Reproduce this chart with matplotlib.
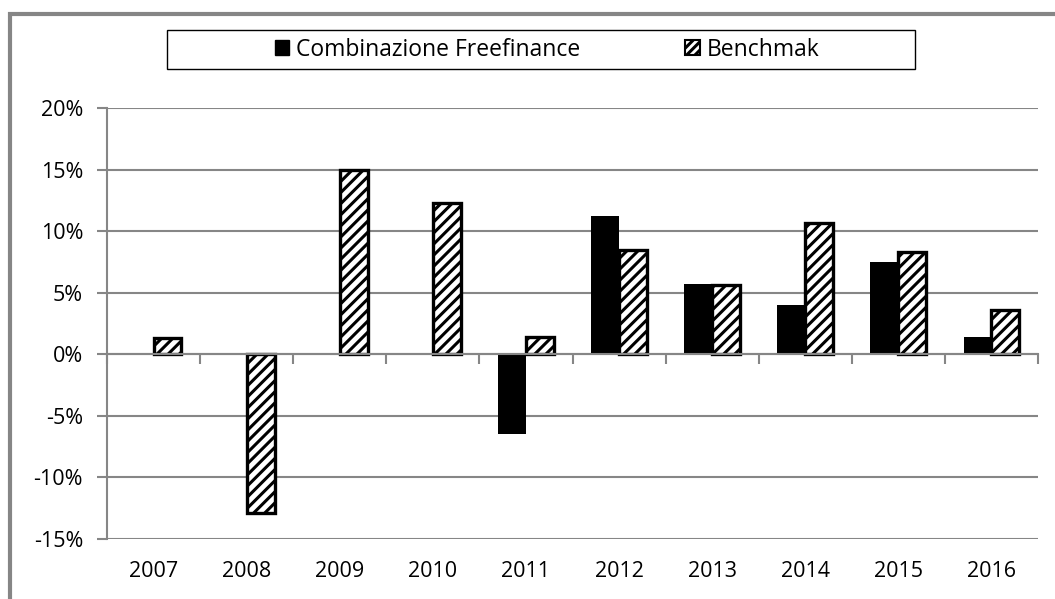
import matplotlib
matplotlib.use("Agg")
import matplotlib.pyplot as plt
import numpy as np
from matplotlib.patches import Rectangle, Patch
from matplotlib.ticker import FuncFormatter

years = ["2007", "2008", "2009", "2010", "2011", "2012", "2013", "2014", "2015", "2016"]
freefinance = [0.0, 0.0, 0.0, 0.0, -6.5, 11.2, 5.7, 4.0, 7.5, 1.4]
benchmark = [1.3, -12.9, 15.0, 12.3, 1.4, 8.5, 5.6, 10.7, 8.3, 3.6]
series_names = ["Combinazione Freefinance", "Benchmak"]
yticks = [-15, -10, -5, 0, 5, 10, 15, 20]

plt.rcParams['font.family'] = ['Open Sans', 'DejaVu Sans']
plt.rcParams['hatch.linewidth'] = 2.2
GRAY = "#868686"
FS = 15.5

fig = plt.figure(figsize=(10.55, 5.99), dpi=100)
ax = fig.add_axes([107/1055, 1-539/599, (1038-107)/1055, (539-108)/599])

x = np.arange(len(years))
w = 0.30
ax.bar(x - w/2, freefinance, width=w, color="black", edgecolor="black", linewidth=0, zorder=3)
ax.bar(x + w/2, benchmark, width=w, color="white", edgecolor="black", linewidth=2.4,
       hatch="///", zorder=3)

ax.set_xlim(-0.5, len(years) - 0.5)
ax.set_ylim(-15, 20)
ax.set_yticks(yticks)
ax.yaxis.set_major_formatter(FuncFormatter(lambda v, p: f"{int(v)}%"))
ax.grid(axis="y", color=GRAY, linewidth=1.5, zorder=0)
ax.set_axisbelow(True)

for s in ["top", "right"]:
    ax.spines[s].set_visible(False)
ax.spines["left"].set_color(GRAY)
ax.spines["left"].set_linewidth(1.5)
ax.spines["bottom"].set_position(("data", 0))
ax.spines["bottom"].set_color(GRAY)
ax.spines["bottom"].set_linewidth(1.5)
ax.spines["bottom"].set_zorder(4)

ax.tick_params(axis="y", direction="out", length=7.2, width=1.5, color=GRAY,
               labelsize=FS, pad=10, labelcolor="black")
ax.set_xticks(np.arange(len(years) + 1) - 0.5)
ax.tick_params(axis="x", direction="out", length=7, width=1.5, color=GRAY, labelbottom=False)

sec = ax.secondary_xaxis("bottom")
sec.set_xticks(x)
sec.set_xticklabels(years)
sec.tick_params(length=0, labelsize=FS, pad=16)
sec.spines["bottom"].set_visible(False)

# legend
box = Rectangle((167/1055, 1-69/599), (915-167)/1055, (69-30)/599, transform=fig.transFigure,
                fill=False, edgecolor="black", linewidth=1.0)
fig.add_artist(box)
handles = [Patch(facecolor="black", edgecolor="black"),
           Patch(facecolor="white", edgecolor="black", hatch="////", linewidth=1.5)]
fig.legend(handles, series_names, loc="center", bbox_to_anchor=(547/1055, 1-49.5/599),
           ncol=2, frameon=False, fontsize=16.5, handlelength=0.62, handleheight=0.62,
           handletextpad=0.3, columnspacing=4.6)

# outer border
border = Rectangle((10/1055, -0.1), 1.2, 1 - 14/599 + 0.1, transform=fig.transFigure,
                   fill=False, edgecolor=GRAY, linewidth=3)
fig.add_artist(border)

fig.savefig("out.png", dpi=100)
